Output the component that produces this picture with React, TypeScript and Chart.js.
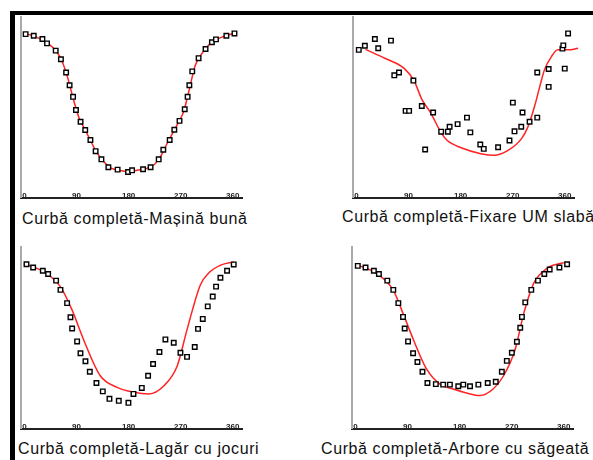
import React, { useEffect, useRef } from "react";
import { Chart, registerables } from "chart.js";

Chart.register(...registerables);

// ---- data ----
const xTickLabels = [0, 90, 180, 270, 360];

// Panel 1: Curbă completă-Mașină bună
const p1MarkDeg = [2, 16, 31, 39, 54, 63, 72, 78, 84, 89, 97, 105, 114, 123, 133, 145, 161, 179, 186, 205, 218, 232, 240, 251, 259, 268, 277, 282, 285, 290, 301, 313, 324, 331, 349, 363];
const p1MarkVal = [90.5, 89.6, 87.8, 85.4, 81.4, 76.6, 69.3, 62.2, 55.8, 48.5, 42, 37.4, 31.9, 25.7, 21.2, 16.8, 15.5, 14.2, 15.1, 15.7, 16.8, 21.2, 26.5, 31.9, 37.6, 42.5, 48.9, 55.8, 62.2, 69.9, 77.2, 82.3, 86, 87.6, 89.6, 90.9];
const p1CurveDeg = [0, 20, 40, 55, 65, 75, 85, 95, 105, 115, 125, 135, 150, 165, 180, 195, 210, 225, 235, 245, 255, 265, 275, 285, 295, 305, 320, 335, 350, 362];
const p1CurveVal = [91, 89, 85.5, 81, 75.5, 66, 54, 43.5, 37.5, 31, 25, 20.5, 16.3, 15, 14.5, 15.2, 16, 18.5, 22.5, 29, 35, 41, 47.5, 60, 73, 79, 85, 88, 89.8, 91];

// Panel 2: Curbă completă-Fixare UM slabă
const p2MarkDeg = [4, 14.5, 31.8, 37.6, 59.6, 65.4, 73.5, 85, 91, 98.4, 112.9, 118.7, 132.5, 146.4, 158, 161, 174.8, 191, 196.8, 214, 220, 244.8, 264.5, 270.3, 273.2, 284.8, 287, 299.2, 312.5, 312.5, 332.2, 332.2, 356, 357.5, 360, 365.8];
const p2MarkVal = [81.8, 84.1, 87.8, 82.7, 86.9, 67.7, 69.3, 48, 48, 64.8, 50.7, 26.6, 47.1, 36.5, 36.5, 39.2, 40.7, 44.3, 36.1, 29.4, 27, 27.9, 31.6, 52.6, 36.7, 39.2, 47.1, 42, 69.3, 44.3, 71.2, 61.3, 82.5, 84.3, 71.4, 90.9];
const p2CurveDeg = [15.6, 50, 82, 100, 113, 128, 146, 157, 181, 215, 238, 262, 285, 296, 308, 317, 325, 337, 348, 366, 383];
const p2CurveVal = [82.1, 77, 71.7, 64.4, 54.4, 47.1, 36.1, 31.6, 27.6, 24.3, 23.4, 26.1, 32.5, 38.9, 50.7, 61.7, 70.8, 78.1, 81.8, 81.8, 82.7];

// Panel 3: Curbă completă-Lagăr cu jocuri
const p3MarkDeg = [3.5, 15, 31.7, 40.9, 54.7, 62.2, 73.7, 79.5, 82.4, 91, 96.8, 105.4, 112.9, 124.4, 135.4, 146.9, 163, 179.7, 188.4, 202.8, 213.7, 222.3, 233.3, 243.6, 258, 269.6, 281, 294.3, 300, 308.2, 316.8, 325.4, 331.2, 338.7, 350.2, 361.7];
const p3MarkVal = [90.5, 88.7, 86.9, 85.1, 81.5, 76.4, 69.1, 61.3, 55.1, 48, 41.5, 37.1, 31.3, 25.1, 20.5, 16.4, 15.3, 14.2, 19.1, 22.4, 29.1, 35.6, 42.2, 49.1, 47.3, 41.8, 39.5, 44.9, 54.9, 60.4, 67.3, 72.7, 78.2, 83.1, 86.9, 90.4];
const p3CurveDeg = [-1, 33, 62, 82, 102, 131, 160, 189, 215, 241, 264, 281, 304, 318, 339, 362];
const p3CurveVal = [90.9, 86.4, 78.2, 65.5, 49.1, 29.1, 22.7, 20, 19.1, 23.6, 34.5, 54.5, 79.1, 85.5, 90, 91.8];

// Panel 4: Curbă completă-Arbore cu săgeată
const p4MarkDeg = [4, 17.4, 31.8, 40.5, 55, 65.4, 74.1, 82.2, 85.1, 90.9, 99.6, 107.1, 115.8, 124.4, 138.9, 151.6, 163.2, 177.7, 186.4, 198, 212.4, 228.6, 242.5, 253, 261.6, 270.3, 279, 284.8, 287.7, 293.5, 303.9, 315.4, 326.4, 335.7, 352.5, 365.8];
const p4MarkVal = [89.6, 88.7, 86.9, 85.1, 81.5, 76.4, 69.1, 61.5, 55.1, 48, 41.5, 36.7, 31.3, 25.1, 24.5, 24.2, 24.2, 23.3, 24.2, 23.3, 24.2, 25.1, 25.8, 31.3, 37.3, 41.8, 47.8, 55.5, 61.5, 69.5, 76.4, 81.5, 85.1, 87.6, 88.7, 90.5];
const p4CurveDeg = [0, 36, 65, 82, 100, 123, 146, 169, 192, 215, 238, 256, 276, 291, 308, 331, 354, 360];
const p4CurveVal = [90.5, 85.5, 76.4, 63.6, 49.1, 32.7, 24.5, 21.8, 19.6, 18.2, 21.8, 29.1, 43.6, 63.6, 80, 88.2, 90.9, 91.3];

const captions = [
  "Curbă completă-Mașină bună",
  "Curbă completă-Fixare UM slabă",
  "Curbă completă-Lagăr cu jocuri",
  "Curbă completă-Arbore cu săgeată",
];

// ---- layout ----
const PAD_L = 8;
const PAD_T = 8;
const PAD_R = 18;
const PAD_B = 4;

type Area = { left: number; top: number; right: number; bottom: number };

function Panel(props: {
  area: Area;
  markDeg: number[];
  markVal: number[];
  curveDeg: number[];
  curveVal: number[];
}) {
  const ref = useRef<HTMLCanvasElement | null>(null);
  const { area } = props;
  const w = area.right - area.left + PAD_L + PAD_R;
  const h = area.bottom - area.top + PAD_T + PAD_B;

  useEffect(() => {
    if (!ref.current) return;
    const chart = new Chart(ref.current, {
      type: "scatter",
      data: {
        datasets: [
          {
            data: props.markDeg.map((x, i) => ({ x, y: props.markVal[i] })),
            showLine: false,
            pointStyle: "rect",
            pointRadius: 3.2,
            pointBorderWidth: 1.4,
            pointBorderColor: "#000",
            pointBackgroundColor: "#fff",
            borderColor: "#000",
            order: 0,
            clip: false as any,
          },
          {
            data: props.curveDeg.map((x, i) => ({ x, y: props.curveVal[i] })),
            showLine: true,
            borderColor: "rgb(255,35,35)",
            borderWidth: 1.5,
            pointRadius: 0,
            cubicInterpolationMode: "monotone",
            order: 1,
            clip: false as any,
          },
        ],
      },
      options: {
        animation: false,
        responsive: false,
        events: [],
        layout: { padding: { left: PAD_L, top: PAD_T, right: PAD_R, bottom: PAD_B } },
        plugins: {
          legend: { display: false },
          tooltip: { enabled: false },
        },
        scales: {
          x: {
            type: "linear",
            position: "bottom",
            min: -6,
            max: 376,
            afterBuildTicks: (s: any) => {
              s.ticks = xTickLabels.map((v) => ({ value: v }));
            },
            afterFit: (s: any) => {
              s.height = 0;
            },
            grid: { display: false, drawTicks: false },
            border: { display: true, color: "#222", width: 2 },
            ticks: {
              mirror: true,
              padding: -2.5,
              autoSkip: false,
              maxRotation: 0,
              color: "#222",
              font: { size: 8, weight: "bold", family: "Arial, 'Liberation Sans', sans-serif" },
            },
          },
          y: {
            type: "linear",
            min: 0,
            max: 100,
            afterFit: (s: any) => {
              s.width = 0;
            },
            grid: { display: false, drawTicks: false },
            border: { display: true, color: "#aaa", width: 2 },
            ticks: { display: false },
          },
        },
      } as any,
    });
    return () => chart.destroy();
  }, []);

  return (
    <canvas
      ref={ref}
      width={w}
      height={h}
      style={{
        position: "absolute",
        left: area.left - PAD_L,
        top: area.top - PAD_T,
        width: w,
        height: h,
      }}
    />
  );
}

const captionStyle: React.CSSProperties = {
  position: "absolute",
  fontFamily: "Arial, 'Liberation Sans', sans-serif",
  fontSize: 16,
  lineHeight: "16px",
  letterSpacing: "0.6px",
  whiteSpace: "nowrap",
  color: "#111",
};

export default function App() {
  return (
    <div
      style={{
        position: "fixed",
        left: 0,
        top: 0,
        width: 593,
        height: 460,
        overflow: "hidden",
        background: "#fff",
      }}
    >
      <div
        style={{
          position: "absolute",
          left: 10,
          top: 11,
          width: 700,
          height: 600,
          borderTop: "4px solid #000",
          borderLeft: "5px solid #000",
        }}
      />
      <Panel area={{ left: 21, top: 17, right: 242, bottom: 199 }} markDeg={p1MarkDeg} markVal={p1MarkVal} curveDeg={p1CurveDeg} curveVal={p1CurveVal} />
      <Panel area={{ left: 353, top: 17, right: 574, bottom: 199 }} markDeg={p2MarkDeg} markVal={p2MarkVal} curveDeg={p2CurveDeg} curveVal={p2CurveVal} />
      <Panel area={{ left: 21, top: 247, right: 242, bottom: 430 }} markDeg={p3MarkDeg} markVal={p3MarkVal} curveDeg={p3CurveDeg} curveVal={p3CurveVal} />
      <Panel area={{ left: 352, top: 247, right: 573, bottom: 430 }} markDeg={p4MarkDeg} markVal={p4MarkVal} curveDeg={p4CurveDeg} curveVal={p4CurveVal} />
      <div style={{ ...captionStyle, left: 22, top: 210.5 }}>{captions[0]}</div>
      <div style={{ ...captionStyle, left: 342, top: 209 }}>{captions[1]}</div>
      <div style={{ ...captionStyle, left: 18, top: 440.5 }}>{captions[2]}</div>
      <div style={{ ...captionStyle, left: 321, top: 440.5 }}>{captions[3]}</div>
    </div>
  );
}
